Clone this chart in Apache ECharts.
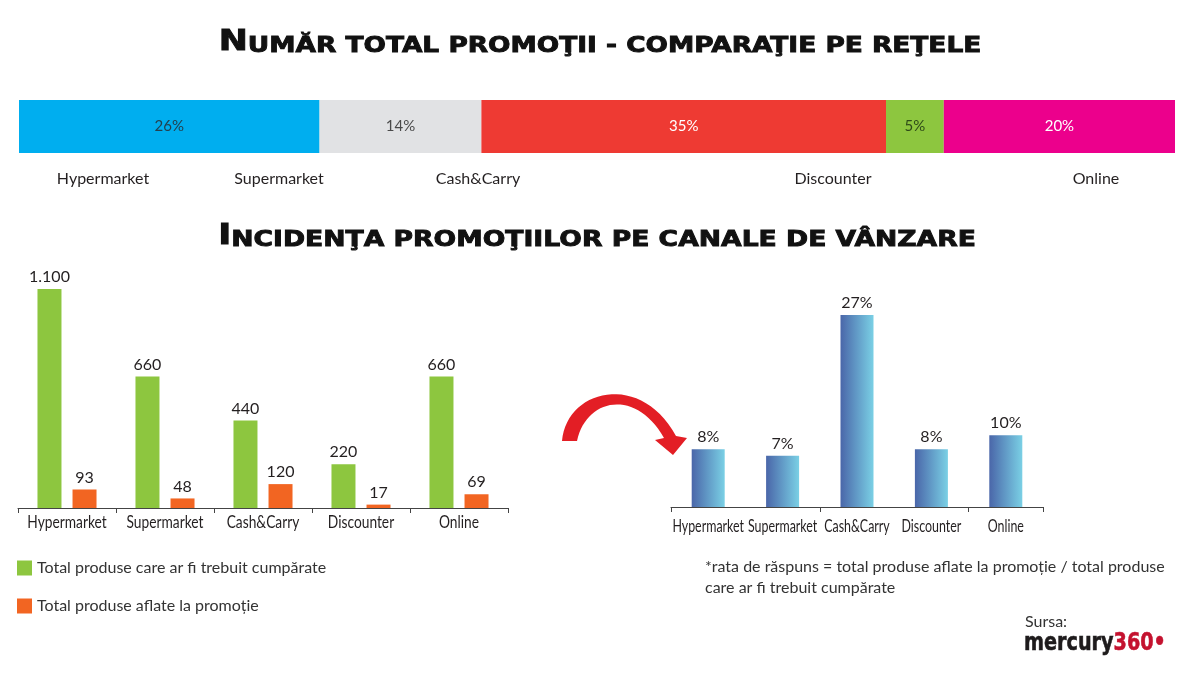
<!DOCTYPE html>
<html>
<head>
<meta charset="utf-8">
<script src="https://cdn.jsdelivr.net/npm/echarts@6/dist/echarts.min.js"></script>
<style>
html,body{margin:0;padding:0;background:#fff;}
#c{width:1200px;height:684px;}
</style>
</head>
<body>
<div id="c"></div>
<script>
// ---- data ----
const channels = ['Hypermarket', 'Supermarket', 'Cash&Carry', 'Discounter', 'Online'];
const sharePercent = [26, 14, 35, 5, 20];
const totalProducts = [1100, 660, 440, 220, 660];
const promoProducts = [93, 48, 120, 17, 69];
const responseRate = [8.2, 7.3, 27.3, 8.2, 10.2];
const legendNames = ['Total produse care ar fi trebuit cumpărate', 'Total produse aflate la promoție'];

// ---- styles ----
const FONT = 'Lato';
const shareColors = ['#00AEEF', '#E1E2E4', '#EE3A33', '#8DC63F', '#EC008C'];
const shareLabelColors = ['#23404F', '#4A4A4A', '#FFFFFF', '#2E4A18', '#FFFFFF'];
const topLabelX = [103, 279, 478, 833, 1096];

function thousands(v) {
  return String(v).replace(/\B(?=(\d{3})+(?!\d))/g, '.');
}

// decorative curved arrow outline (sampled cubic curves)
function cubic(p0, p1, p2, p3, n) {
  const pts = [];
  for (let k = 0; k <= n; k++) {
    const t = k / n, u = 1 - t;
    pts.push([
      u*u*u*p0[0] + 3*u*u*t*p1[0] + 3*u*t*t*p2[0] + t*t*t*p3[0],
      u*u*u*p0[1] + 3*u*u*t*p1[1] + 3*u*t*t*p2[1] + t*t*t*p3[1]
    ]);
  }
  return pts;
}
const arrowPts = []
  .concat(cubic([562, 441], [566, 390], [640, 370], [676, 436], 30))
  .concat([[687, 438], [673, 455], [655, 440]])
  .concat(cubic([664, 438], [636, 388], [586, 398], [577, 441], 30));

const chart = echarts.init(document.getElementById('c'));

const shareSeries = channels.map((name, i) => ({
  type: 'bar',
  name: 'share_' + name,
  stack: 'share',
  xAxisIndex: 0,
  yAxisIndex: 0,
  barWidth: 53,
  data: [sharePercent[i]],
  itemStyle: { color: shareColors[i] },
  label: {
    show: true,
    position: 'inside',
    formatter: sharePercent[i] + '%',
    color: shareLabelColors[i],
    fontFamily: FONT,
    fontSize: 15
  },
  silent: true
}));

const titleRich = {
  b: { fontFamily: 'DejaVu Sans', fontWeight: 'bold', fontSize: 29, fill: '#111', verticalAlign: 'bottom', lineHeight: 30,
       stroke: '#111', lineWidth: 0.9 },
  s: { fontFamily: 'DejaVu Sans', fontWeight: 'bold', fontSize: 22, fill: '#111', verticalAlign: 'bottom', lineHeight: 30,
       stroke: '#111', lineWidth: 0.9 }
};

const axisCommon = {
  type: 'category', data: channels,
  axisLine: { lineStyle: { color: '#444', width: 1 } },
  axisTick: { show: true, length: 5, lineStyle: { color: '#444' } },
  axisLabel: { show: false }
};

const option = {
  animation: false,
  backgroundColor: '#ffffff',
  grid: [
    { left: 19, right: 25, top: 100, height: 53 },
    { left: 18, right: 692, top: 289, bottom: 176 },
    { left: 671, right: 157, top: 315, bottom: 177 }
  ],
  legend: {
    data: legendNames,
    orient: 'vertical',
    left: 17,
    top: 560,
    padding: 0,
    icon: 'rect',
    itemWidth: 15,
    itemHeight: 15,
    itemGap: 22,
    selectedMode: false,
    textStyle: { fontFamily: FONT, fontSize: 16, color: '#333' }
  },
  xAxis: [
    { gridIndex: 0, type: 'value', min: 0, max: 100, show: false },
    Object.assign({ gridIndex: 1 }, axisCommon),
    Object.assign({ gridIndex: 2 }, axisCommon)
  ],
  yAxis: [
    { gridIndex: 0, type: 'category', data: ['share'], show: false },
    { gridIndex: 1, type: 'value', min: 0, max: 1100, show: false },
    { gridIndex: 2, type: 'value', min: 0, max: 27.3, show: false }
  ],
  series: shareSeries.concat([
    {
      type: 'bar', name: legendNames[0], xAxisIndex: 1, yAxisIndex: 1,
      data: totalProducts, barWidth: 24, barGap: '46%',
      itemStyle: { color: '#8DC63F' },
      label: { show: true, position: 'top', distance: 4, fontFamily: FONT, fontSize: 16, color: '#231F20',
        formatter: p => thousands(p.value) }
    },
    {
      type: 'bar', name: legendNames[1], xAxisIndex: 1, yAxisIndex: 1,
      data: promoProducts, barWidth: 24, barGap: '46%',
      itemStyle: { color: '#F26522' },
      label: { show: true, position: 'top', distance: 4, fontFamily: FONT, fontSize: 16, color: '#231F20',
        formatter: p => thousands(p.value) }
    },
    {
      type: 'bar', name: 'rata de răspuns', xAxisIndex: 2, yAxisIndex: 2,
      data: responseRate, barWidth: 33,
      itemStyle: {
        color: new echarts.graphic.LinearGradient(0, 0, 1, 0, [
          { offset: 0, color: '#4A66A9' },
          { offset: 1, color: '#7AD0E5' }
        ])
      },
      label: { show: true, position: 'top', distance: 4, fontFamily: FONT, fontSize: 16, color: '#231F20',
        formatter: p => Math.round(p.value) + '%' }
    }
  ])
};

chart.setOption(option);

// category labels placed at the axis positions computed by the library (condensed text)
function axisLabels(axisIndex, yOffset, sx) {
  return channels.map(name => {
    const px = chart.convertToPixel({ xAxisIndex: axisIndex, yAxisIndex: axisIndex }, [name, 0]);
    return {
      type: 'text', x: px[0], y: px[1] + yOffset, scaleX: sx,
      style: { text: name, fontFamily: FONT, fontSize: 17, fill: '#231F20', align: 'center', verticalAlign: 'middle' }
    };
  });
}

const graphics = [
  {
    type: 'text', x: 600, y: 42, scaleX: 1.2,
    style: {
      text: '{b|N}{s|UMĂR TOTAL PROMOŢII - COMPARAŢIE PE REŢELE}',
      rich: titleRich, align: 'center', verticalAlign: 'middle'
    }
  },
  {
    type: 'text', x: 597, y: 236, scaleX: 1.21,
    style: {
      text: '{b|I}{s|NCIDENŢA PROMOŢIILOR PE CANALE DE VÂNZARE}',
      rich: titleRich, align: 'center', verticalAlign: 'middle'
    }
  }
].concat(channels.map((name, i) => ({
  type: 'text', x: topLabelX[i], y: 179,
  style: { text: name, fontFamily: FONT, fontSize: 16, fill: '#231F20', align: 'center', verticalAlign: 'middle' }
})))
 .concat(axisLabels(1, 15, 0.81))
 .concat(axisLabels(2, 20, 0.73))
 .concat([
  {
    type: 'text', x: 705, y: 556,
    style: {
      text: '*rata de răspuns = total produse aflate la promoție / total produse\ncare ar fi trebuit cumpărate',
      fontFamily: FONT, fontSize: 16, lineHeight: 21, fill: '#333'
    }
  },
  {
    type: 'text', x: 1025, y: 622,
    style: { text: 'Sursa:', fontFamily: FONT, fontSize: 16, fill: '#333', verticalAlign: 'middle' }
  },
  {
    type: 'text', x: 1024, y: 644, scaleX: 0.8,
    style: {
      text: '{m|mercury}{n|360•}',
      verticalAlign: 'middle',
      rich: {
        m: { fontFamily: 'DejaVu Sans', fontWeight: 'bold', fontSize: 24, fill: '#1E1B1C', stroke: '#1E1B1C', lineWidth: 0.6 },
        n: { fontFamily: 'DejaVu Sans', fontWeight: 'bold', fontSize: 24, fill: '#C4122F', stroke: '#C4122F', lineWidth: 0.6 }
      }
    }
  },
  {
    type: 'polygon',
    shape: { points: arrowPts },
    style: { fill: '#E31E25' }
  }
]);

chart.setOption({ graphic: graphics });
</script>
</body>
</html>
